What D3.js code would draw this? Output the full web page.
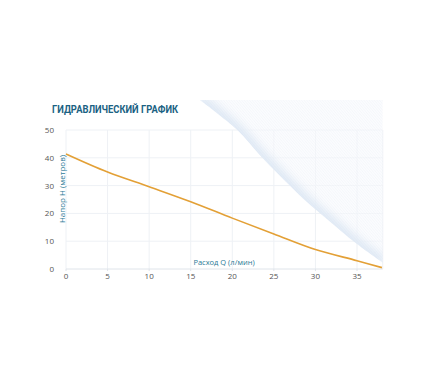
<!DOCTYPE html>
<html>
<head>
<meta charset="utf-8">
<script src="https://cdn.jsdelivr.net/npm/d3@7"></script>
<style>
  body { margin: 0; background: #fff; }
  svg { display: block; }
</style>
</head>
<body>
<div id="chart"></div>
<script>
// datos de la curva (Q en l/min, H en metros)
const caudal = [0, 5, 10, 15, 20, 25, 30, 35, 38];
const altura = [41.4, 34.9, 29.6, 24.2, 18.3, 12.6, 7.0, 3.0, 0.5];
const ticksX = [0, 5, 10, 15, 20, 25, 30, 35];
const ticksY = [0, 10, 20, 30, 40, 50];
// borde de la "hoja doblada" decorativa, en unidades del grafico
const bordeQ = [16.1, 20.6, 23.3, 26.0, 28.7, 31.8, 34.8, 38.1];
const bordeH = [60.8, 50.0, 41.0, 32.7, 24.8, 16.9, 9.4, 2.2];

const W = 426, H = 383;
const svg = d3.select("#chart").append("svg").attr("width", W).attr("height", H);

const x = d3.scaleLinear().domain([0, 35]).range([66, 357]);
const y = d3.scaleLinear().domain([0, 50]).range([269, 130]);

// rejilla
const grid = svg.append("g");
grid.selectAll("line.v").data(ticksX.concat([38.1])).enter().append("line")
  .attr("x1", d => x(d)).attr("x2", d => x(d))
  .attr("y1", y(0)).attr("y2", y(50))
  .attr("stroke", "#eef1f5").attr("stroke-width", 1);
grid.selectAll("line.h").data(ticksY).enter().append("line")
  .attr("x1", x(0)).attr("x2", x(38.1))
  .attr("y1", d => y(d)).attr("y2", d => y(d))
  .attr("stroke", d => d === 0 ? "#dfe4ea" : "#eef1f5").attr("stroke-width", 1);

// hoja doblada
const defs = svg.append("defs");
const borde = bordeQ.map((q, i) => [x(q), y(bordeH[i])]);
const lineaBorde = d3.line().curve(d3.curveCatmullRom);
const hojaPath = lineaBorde(borde) + "L" + x(38.1) + "," + y(60.8) + "Z";
defs.append("clipPath").attr("id", "clipHoja").append("path").attr("d", hojaPath);
defs.append("filter").attr("id", "difuso")
  .attr("x", "-20%").attr("y", "-20%").attr("width", "140%").attr("height", "140%")
  .append("feGaussianBlur").attr("stdDeviation", 4);

const hoja = svg.append("g").attr("clip-path", "url(#clipHoja)");
hoja.append("path").attr("d", hojaPath).attr("fill", "#f8fafd").attr("opacity", 0.6);
// banda azul junto al borde
hoja.append("path").attr("d", lineaBorde(borde))
  .attr("fill", "none").attr("stroke", "#dfe9f5").attr("stroke-width", 12)
  .attr("filter", "url(#difuso)");

// lineas finas dentro de la hoja
const rayas = d3.range(0, 90);
hoja.append("g")
  .selectAll("line").data(rayas).enter().append("line")
  .attr("x1", d => x(12) + d * 2.6).attr("y1", y(62))
  .attr("x2", d => x(12) + d * 2.6 + 150).attr("y2", y(62) + 175)
  .attr("stroke", "#d4deeb").attr("stroke-width", 0.3).attr("opacity", 0.5);

// ejes (etiquetas)
svg.append("g").selectAll("text").data(ticksY).enter().append("text")
  .attr("x", 54).attr("y", d => y(d) + 3)
  .attr("text-anchor", "end")
  .style("font-family", "'Open Sans', sans-serif").style("font-size", "8px")
  .style("fill", "#555").text(d => d);

svg.append("g").selectAll("text").data(ticksX).enter().append("text")
  .attr("x", d => x(d)).attr("y", 279)
  .attr("text-anchor", "middle")
  .style("font-family", "'Open Sans', sans-serif").style("font-size", "8px")
  .style("fill", "#555").text(d => d);

// pequeñas marcas del eje x
svg.append("g").selectAll("line").data(ticksX).enter().append("line")
  .attr("x1", d => x(d)).attr("x2", d => x(d))
  .attr("y1", 269).attr("y2", 271)
  .attr("stroke", "#dfe4ea");

// curva
const linea = d3.line().x((d, i) => x(caudal[i])).y(d => y(d)).curve(d3.curveCatmullRom);
svg.append("path").datum(altura)
  .attr("d", linea)
  .attr("fill", "none")
  .attr("stroke", "#e3a036")
  .attr("stroke-width", 1.6);

// titulos
svg.append("text").attr("x", 52).attr("y", 113)
  .attr("textLength", 126).attr("lengthAdjust", "spacingAndGlyphs")
  .style("font-family", "Roboto, sans-serif").style("font-weight", "bold")
  .style("font-size", "10px").style("fill", "#1b6283")
  .text("ГИДРАВЛИЧЕСКИЙ ГРАФИК");

svg.append("text")
  .attr("transform", "translate(65,189) rotate(-90)")
  .attr("text-anchor", "middle")
  .style("font-family", "'Open Sans', sans-serif").style("font-size", "8px")
  .style("fill", "#2b7a96")
  .text("Напор H (метров)");

svg.append("text").attr("x", 224).attr("y", 265)
  .attr("text-anchor", "middle")
  .style("font-family", "'Open Sans', sans-serif").style("font-size", "7.5px")
  .style("fill", "#2b7a96")
  .text("Расход Q (л/мин)");
</script>
</body>
</html>
